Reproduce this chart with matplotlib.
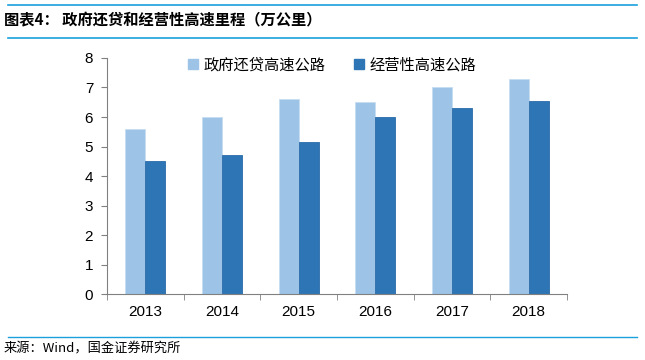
import numpy as np
import matplotlib.pyplot as plt
from matplotlib.lines import Line2D

plt.rcParams['font.family'] = ['Liberation Sans', 'Noto Sans CJK SC']

# data
years = ["2013", "2014", "2015", "2016", "2017", "2018"]
gov_loan = [5.6, 6.0, 6.6, 6.5, 7.0, 7.3]
commercial = [4.5, 4.7, 5.15, 6.0, 6.3, 6.55]
series_names = ["政府还贷高速公路", "经营性高速公路"]

light = "#9DC3E6"
dark = "#2E75B6"
line_blue = "#1AA0DC"
axis_gray = "#808080"

fig = plt.figure(figsize=(6.45, 3.6), dpi=100)
ax = fig.add_axes([0.166, 0.183, 0.713, 0.656])

x = np.arange(len(years))
w = 0.26
ax.bar(x - w / 2, gov_loan, width=w, color=light, edgecolor="#C5DDF2", linewidth=0.6)
ax.bar(x + w / 2, commercial, width=w, color=dark, edgecolor="#2A6BA8", linewidth=0.6)

ax.set_xlim(-0.5, len(years) - 0.5)
ax.set_ylim(0, 8)
ax.set_yticks(range(0, 9))
ax.set_xticks(x)
ax.set_xticklabels(years)
ax.set_xticks(np.arange(-0.5, len(years)), minor=True)
ax.tick_params(axis="x", which="major", length=0, pad=8, labelsize=11)
ax.tick_params(axis="x", which="minor", length=4, color=axis_gray, direction="out")
ax.tick_params(axis="y", length=4, color=axis_gray, labelsize=11, pad=6)
for s in ["top", "right"]:
    ax.spines[s].set_visible(False)
for s in ["left", "bottom"]:
    ax.spines[s].set_color(axis_gray)

handles = [Line2D([], [], marker="s", linestyle="", color=light, markersize=7),
           Line2D([], [], marker="s", linestyle="", color=dark, markersize=7)]
ax.legend(handles, series_names, loc="upper center", bbox_to_anchor=(0.485, 1.065),
          ncol=2, frameon=False, prop={"family": "Noto Sans CJK SC", "size": 11},
          handletextpad=0.1, columnspacing=1.6, handlelength=1.2)

# title and source with blue rules
fig.add_artist(Line2D([0.012, 0.988], [0.986, 0.986], color=line_blue, linewidth=1.2))
fig.add_artist(Line2D([0.012, 0.988], [0.894, 0.894], color=line_blue, linewidth=1.2))
fig.add_artist(Line2D([0.012, 0.988], [0.064, 0.064], color=line_blue, linewidth=1.0))
fig.text(0.006, 0.942, "图表4： 政府还贷和经营性高速里程（万公里）", fontsize=11,
         fontweight="bold", fontstyle="italic", va="center", ha="left",
         family=["Noto Sans CJK SC"])
fig.text(0.006, 0.03, "来源：Wind，国金证券研究所", fontsize=9.5, va="center", ha="left",
         family=["Noto Sans CJK SC"])

fig.savefig("out.png", dpi=100)
